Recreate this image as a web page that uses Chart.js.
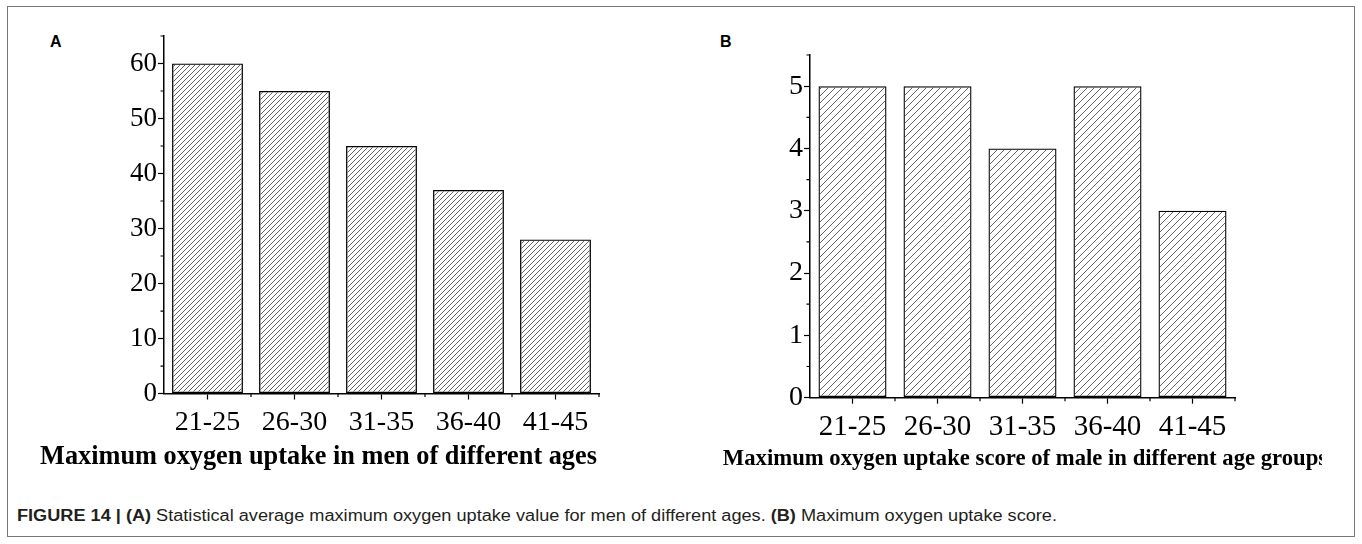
<!DOCTYPE html>
<html><head><meta charset="utf-8">
<script src="https://cdn.jsdelivr.net/npm/chart.js@4/dist/chart.umd.min.js"></script>
<style>
html,body{margin:0;padding:0;background:#fff;}
body{width:1362px;height:544px;position:relative;overflow:hidden;}
#frame{position:absolute;left:7px;top:6px;width:1348px;height:531px;border:1px solid #777;box-sizing:border-box;}
.panel{position:absolute;font-family:'Liberation Sans',Arial,sans-serif;font-weight:bold;font-size:16px;line-height:1;color:#000;}
#wa{position:absolute;left:8px;top:7px;width:621px;height:475px;overflow:hidden;}
#wb{position:absolute;left:685px;top:7px;width:637px;height:475px;overflow:hidden;}
canvas{display:block;}
#caption{position:absolute;left:17px;top:508px;font-family:'Liberation Sans',Arial,sans-serif;font-size:16px;line-height:1;color:#231f20;white-space:nowrap;transform-origin:0 0;}
</style></head>
<body>
<div id="frame"></div>
<div class="panel" style="left:50px;top:34px;">A</div>
<div class="panel" style="left:720px;top:34px;">B</div>
<div id="wa"><canvas id="ca" width="621" height="475"></canvas></div>
<div id="wb"><canvas id="cb" width="680" height="475"></canvas></div>
<div id="caption"><b>FIGURE 14 | (A)</b> Statistical average maximum oxygen uptake value for men of different ages. <b>(B)</b> Maximum oxygen uptake score.</div>
<script>
const categories = ['21-25','26-30','31-35','36-40','41-45'];
const valuesA = [60,55,45,37,28];
const valuesB = [5,5,4,5,3];
const titleA = 'Maximum oxygen uptake in men of different ages';
const titleB = 'Maximum oxygen uptake score of male in different age groups';

function hatch(ctx, size, color, lw){
  const c=document.createElement('canvas'); c.width=size; c.height=size;
  const g=c.getContext('2d'); g.strokeStyle=color; g.lineWidth=lw; g.beginPath();
  g.moveTo(0,size); g.lineTo(size,0);
  g.moveTo(-1,1); g.lineTo(1,-1);
  g.moveTo(size-1,size+1); g.lineTo(size+1,size-1);
  g.stroke();
  return ctx.createPattern(c,'repeat');
}

const minorTicks = {
  id:'minorTicks',
  afterDraw(chart){
    const ctx=chart.ctx, xs=chart.scales.x, ys=chart.scales.y;
    ctx.save(); ctx.strokeStyle='#000'; ctx.lineWidth=1.2; ctx.beginPath();
    const n=xs.ticks.length, w=(xs.right-xs.left)/n;
    for(let i=1;i<=n;i++){ const x=xs.left+i*w; ctx.moveTo(x,xs.top); ctx.lineTo(x,xs.top+3.5); }
    ys.ticks.forEach((t,i)=>{ if(t.label===''){ const y=ys.getPixelForTick(i); ctx.moveTo(ys.right,y); ctx.lineTo(ys.right-3.5,y);} });
    ctx.stroke(); ctx.restore();
  }
};

function makeChart(id, values, opt){
  const cv=document.getElementById(id), ctx=cv.getContext('2d');
  return new Chart(ctx,{
    type:'bar',
    data:{labels:categories,datasets:[{data:values,backgroundColor:hatch(ctx,opt.hs,'#555',0.9),borderColor:'#000',borderWidth:1.3,borderSkipped:false,categoryPercentage:1,barPercentage:opt.bp}]},
    options:{
      responsive:false,animation:false,
      layout:{padding:{left:0,top:opt.pt,right:0,bottom:0}},
      plugins:{legend:{display:false},tooltip:{enabled:false},
        title:{display:true,position:'bottom',align:'center',text:opt.title,color:'#000',
          font:{family:'Liberation Serif',size:opt.tfs,weight:'bold',lineHeight:1.2},padding:{top:0,bottom:opt.tpb}}},
      scales:{
        x:{offset:true,
          grid:{display:true,offset:false,drawOnChartArea:false,drawTicks:true,tickLength:6,tickWidth:1.2,tickColor:'#000'},
          border:{display:true,color:'#000',width:1.5},
          ticks:{color:'#000',padding:opt.xpad,font:{family:'Liberation Serif',size:opt.xfs},maxRotation:0,autoSkip:false},
          afterFit:s=>{s.height=opt.xh;}
        },
        y:{min:0,max:opt.max,
          grid:{display:true,drawOnChartArea:false,drawTicks:true,tickLength:6,tickWidth:1.2,tickColor:c=>(c.tick && c.tick.label!=='' ? '#000':'rgba(0,0,0,0)')},
          border:{display:true,color:'#000',width:1.5},
          ticks:{stepSize:opt.step,includeBounds:false,autoSkip:false,color:'#000',padding:1,font:{family:'Liberation Serif',size:opt.yfs},
            callback:v=>(Math.abs(v/opt.major-Math.round(v/opt.major))<1e-6 ? String(v) : '')},
          afterFit:s=>{s.width=opt.yw;}
        },
        spacer:{position:'right',display:true,grid:{display:false},border:{display:false},ticks:{display:false},
          afterFit:s=>{s.width=opt.rw;}}
      }
    },
    plugins:[minorTicks]
  });
}

makeChart('ca', valuesA, {hs:5,bp:0.815,pt:29,rw:30,xh:47.5,yw:156,max:65,step:5,major:10,xfs:28,yfs:27,xpad:6,tfs:26.3,tpb:9.4,title:titleA});
makeChart('cb', valuesB, {hs:7,bp:0.8,pt:48,rw:130,xh:47.7,yw:125,max:5.5,step:0.5,major:1,xfs:29,yfs:28,xpad:6,tfs:22.7,tpb:9.4,title:titleB});

const cap=document.getElementById('caption');
const w=cap.getBoundingClientRect().width;
cap.style.transform='scaleX('+(1040/w)+')';
</script>
</body></html>
